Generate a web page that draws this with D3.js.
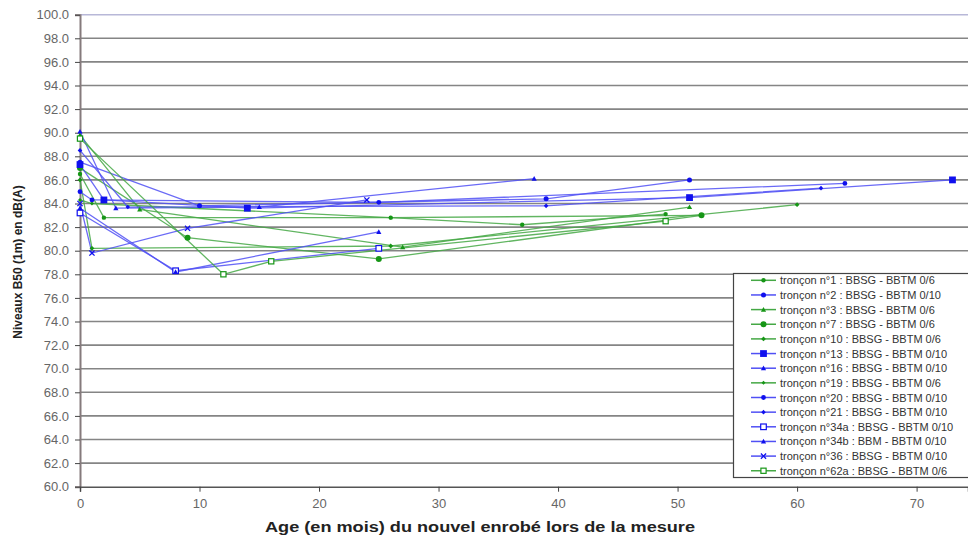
<!DOCTYPE html>
<html>
<head>
<meta charset="utf-8">
<script src="https://cdn.jsdelivr.net/npm/d3@7"></script>
<style>
  body { margin: 0; background: #fff; }
  svg { display: block; font-family: "Liberation Sans", Arial, sans-serif; }
</style>
</head>
<body>
<div id="chart"></div>
<script>
// legend labels, in legend order
var labels = [
  "tronçon n°1 : BBSG - BBTM 0/6",
  "tronçon n°2 : BBSG - BBTM 0/10",
  "tronçon n°3 : BBSG - BBTM 0/6",
  "tronçon n°7 : BBSG - BBTM 0/6",
  "tronçon n°10 : BBSG - BBTM 0/6",
  "tronçon n°13 : BBSG - BBTM 0/10",
  "tronçon n°16 : BBSG - BBTM 0/10",
  "tronçon n°19 : BBSG - BBTM 0/6",
  "tronçon n°20 : BBSG - BBTM 0/10",
  "tronçon n°21 : BBSG - BBTM 0/10",
  "tronçon n°34a : BBSG - BBTM 0/10",
  "tronçon n°34b : BBM - BBTM 0/10",
  "tronçon n°36 : BBSG - BBTM 0/10",
  "tronçon n°62a : BBSG - BBTM 0/6"
];

// age (months) and level dB(A)
var t1Age = [0, 2, 26, 37, 49],        t1Lvl = [86.5, 82.8, 82.8, 82.2, 83.1];
var t2Age = [0, 10, 39, 51],           t2Lvl = [87.5, 83.8, 84.4, 86.0];
var t3Age = [0, 5, 27, 51],            t3Lvl = [89.8, 83.5, 80.3, 83.7];
var t7Age = [0, 9, 25, 52],            t7Lvl = [87.0, 81.1, 79.3, 83.0];
var t10Age = [0, 1, 26, 60],           t10Lvl = [86.0, 80.2, 80.4, 83.9];
var t13Age = [0, 2, 14, 51, 73],       t13Lvl = [87.3, 84.3, 83.6, 84.5, 86.0];
var t16Age = [0, 3, 15, 38],           t16Lvl = [90.1, 83.6, 83.7, 86.1];
var t19Age = [0, 1, 26, 52],           t19Lvl = [84.3, 84.0, 82.8, 83.0];
var t20Age = [0, 1, 25, 64],           t20Lvl = [85.0, 84.3, 84.1, 85.7];
var t21Age = [0, 4, 39, 62],           t21Lvl = [88.5, 83.7, 83.8, 85.3];
var t34aAge = [0, 8, 25],              t34aLvl = [83.2, 78.3, 80.2];
var t34bAge = [0, 8, 25],              t34bLvl = [83.6, 78.2, 81.6];
var t36Age = [0, 1, 9, 24],            t36Lvl = [84.0, 79.8, 81.9, 84.3];
var t62aAge = [0, 12, 16, 49],         t62aLvl = [89.5, 78.0, 79.1, 82.5];

var yTicks = [60, 62, 64, 66, 68, 70, 72, 74, 76, 78, 80, 82, 84, 86, 88, 90, 92, 94, 96, 98, 100];
var xTicks = [0, 10, 20, 30, 40, 50, 60, 70];

var ages = [t1Age, t2Age, t3Age, t7Age, t10Age, t13Age, t16Age, t19Age, t20Age, t21Age, t34aAge, t34bAge, t36Age, t62aAge];
var lvls = [t1Lvl, t2Lvl, t3Lvl, t7Lvl, t10Lvl, t13Lvl, t16Lvl, t19Lvl, t20Lvl, t21Lvl, t34aLvl, t34bLvl, t36Lvl, t62aLvl];

// look of each series
var GREEN = {line: "#45a845", mark: "#169616"};
var BLUE = {line: "#5050f5", mark: "#1010ee"};
var styles = [
  {c: GREEN, m: "circle", s: 2.2},
  {c: BLUE, m: "circle", s: 2.5},
  {c: GREEN, m: "triangle", s: 2.6},
  {c: GREEN, m: "circle", s: 3},
  {c: GREEN, m: "diamond", s: 2.4},
  {c: BLUE, m: "square", s: 3.4},
  {c: BLUE, m: "triangle", s: 2.6},
  {c: GREEN, m: "diamond", s: 2},
  {c: BLUE, m: "circle", s: 2.4},
  {c: BLUE, m: "diamond", s: 2.3},
  {c: BLUE, m: "opensquare", s: 2.8},
  {c: BLUE, m: "triangle", s: 2.6},
  {c: BLUE, m: "cross", s: 2.6},
  {c: GREEN, m: "opensquare", s: 2.6}
];

var series = labels.map(function (name, i) {
  return {name: name, style: styles[i], pts: ages[i].map(function (a, j) { return {x: a, y: lvls[i][j]}; })};
});

var W = 968, H = 538;
var svg = d3.select("#chart").append("svg").attr("width", W).attr("height", H);

var x = d3.scaleLinear().domain([0, 74.3]).range([80, 968]);
var y = d3.scaleLinear().domain([60, 100]).range([486.7, 14.7]);

// gridlines
svg.append("g").selectAll("line").data(yTicks.filter(function (d) { return d > 60; })).enter()
  .append("line")
  .attr("x1", x(0)).attr("x2", W)
  .attr("y1", function (d) { return y(d); }).attr("y2", function (d) { return y(d); })
  .attr("stroke", function (d) { return d == 100 ? "#b8b8d8" : "#858585"; })
  .attr("stroke-width", 1.6);

// y axis
var yAxis = d3.axisLeft(y).tickValues(yTicks).tickSize(5).tickPadding(6)
  .tickFormat(d3.format(".1f"));
var gy = svg.append("g").attr("transform", "translate(" + x(0) + ",0)").call(yAxis);
gy.select(".domain").attr("stroke", "#857a7c").attr("stroke-width", 2);
gy.selectAll(".tick line").attr("stroke", "#444");
gy.selectAll("text").attr("fill", "#666").style("font-size", "13px");

// x axis
var xAxis = d3.axisBottom(x).tickValues(xTicks).tickSize(5).tickPadding(7);
var gx = svg.append("g").attr("transform", "translate(0," + y(60) + ")").call(xAxis);
gx.select(".domain").attr("stroke", "#555").attr("stroke-width", 1.5);
gx.selectAll(".tick line").attr("stroke", "#444");
gx.selectAll("text").attr("fill", "#666").style("font-size", "13px");

// axis titles
svg.append("text")
  .attr("transform", "translate(22,262) rotate(-90)")
  .attr("text-anchor", "middle")
  .style("font-size", "12px").style("font-weight", "bold").attr("fill", "#222")
  .text("Niveaux B50 (1m) en dB(A)");

svg.append("text")
  .attr("x", 480).attr("y", 532)
  .attr("text-anchor", "middle")
  .attr("textLength", 430).attr("lengthAdjust", "spacingAndGlyphs")
  .style("font-size", "14px").style("font-weight", "bold").attr("fill", "#222")
  .text("Age (en mois) du nouvel enrobé lors de la mesure");

// draws one marker at (cx, cy)
function marker(g, st, cx, cy) {
  var s = st.s, col = st.c.mark;
  if (st.m == "circle") {
    g.append("circle").attr("cx", cx).attr("cy", cy).attr("r", s).attr("fill", col);
  } else if (st.m == "square") {
    g.append("rect").attr("x", cx - s).attr("y", cy - s).attr("width", 2 * s).attr("height", 2 * s).attr("fill", col);
  } else if (st.m == "opensquare") {
    g.append("rect").attr("x", cx - s).attr("y", cy - s).attr("width", 2 * s).attr("height", 2 * s)
      .attr("fill", "#fff").attr("stroke", col).attr("stroke-width", 1.2);
  } else if (st.m == "triangle") {
    g.append("path").attr("d", "M" + cx + "," + (cy - s) + "L" + (cx + s) + "," + (cy + s * 0.8) + "L" + (cx - s) + "," + (cy + s * 0.8) + "Z").attr("fill", col);
  } else if (st.m == "diamond") {
    g.append("path").attr("d", "M" + cx + "," + (cy - s) + "L" + (cx + s) + "," + cy + "L" + cx + "," + (cy + s) + "L" + (cx - s) + "," + cy + "Z").attr("fill", col);
  } else if (st.m == "cross") {
    g.append("path").attr("d", "M" + (cx - s) + "," + (cy - s) + "L" + (cx + s) + "," + (cy + s) + "M" + (cx + s) + "," + (cy - s) + "L" + (cx - s) + "," + (cy + s))
      .attr("stroke", col).attr("stroke-width", 1.3);
  }
}

var line = d3.line().x(function (d) { return x(d.x); }).y(function (d) { return y(d.y); });

var plot = svg.append("g");
series.forEach(function (s) {
  plot.append("path").datum(s.pts)
    .attr("d", line)
    .attr("fill", "none")
    .attr("stroke", s.style.c.line)
    .attr("stroke-width", 1.3)
    .attr("stroke-opacity", 0.85);
});
series.forEach(function (s) {
  var g = plot.append("g");
  s.pts.forEach(function (p) { marker(g, s.style, x(p.x), y(p.y)); });
});

// legend
var lg = svg.append("g");
lg.append("rect").attr("x", 733.5).attr("y", 273.5).attr("width", 250).attr("height", 204)
  .attr("fill", "#fff").attr("stroke", "#444").attr("stroke-width", 1.2);
series.forEach(function (s, i) {
  var ly = 280.3 + i * 14.65;
  lg.append("line").attr("x1", 751).attr("x2", 776).attr("y1", ly).attr("y2", ly)
    .attr("stroke", s.style.c.line).attr("stroke-width", 1.5);
  marker(lg, s.style, 763.5, ly);
  lg.append("text").attr("x", 780).attr("y", ly + 4)
    .style("font-size", "11px").attr("fill", "#333")
    .text(s.name);
});
</script>
</body>
</html>
